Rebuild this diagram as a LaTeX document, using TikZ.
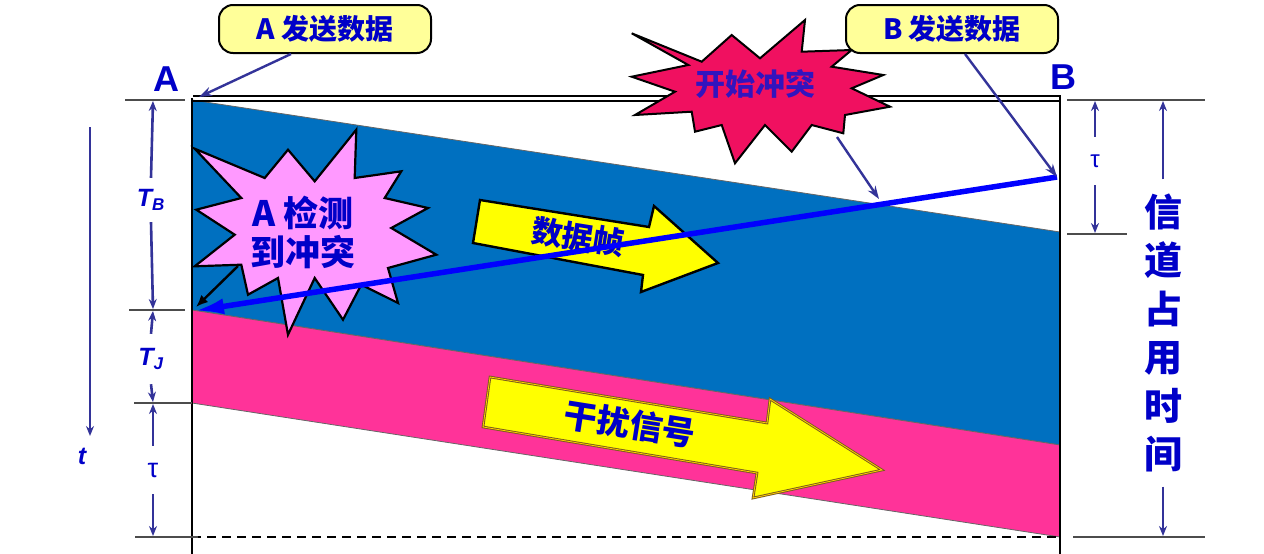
\documentclass[tikz,border=0pt]{standalone}
\usepackage{fontspec}
\setmainfont{Liberation Sans}
\newfontfamily\cjk{Noto Sans CJK SC}
\usetikzlibrary{arrows.meta}
\definecolor{bandblue}{RGB}{0,112,192}
\definecolor{bandpink}{RGB}{255,51,153}
\definecolor{burstpink}{RGB}{255,153,255}
\definecolor{burstred}{RGB}{240,16,96}
\definecolor{calloutyel}{RGB}{255,255,153}
\definecolor{dimblue}{RGB}{51,51,153}
\definecolor{txtblue}{RGB}{0,0,200}
\definecolor{txtviolet}{RGB}{50,20,190}
\definecolor{linblue}{RGB}{0,0,255}
\definecolor{arrowyel}{RGB}{255,255,0}
\definecolor{arrowrim}{RGB}{120,90,30}
\begin{document}
\begin{tikzpicture}[x=1pt,y=-1pt,
  dimarrow/.style={draw=dimblue, line width=2.6pt, -{Stealth[length=10pt,width=8pt]}},
  ptrarrow/.style={draw=dimblue, line width=2.4pt, -{Stealth[length=13pt,width=9pt]}},
  tickline/.style={draw=black!70, line width=1.5pt},
  callout/.style={draw=black, line width=2pt, fill=calloutyel, rounded corners=14pt,
    minimum width=212pt, minimum height=48pt, inner sep=0pt, text=txtblue,
    font=\cjk\bfseries\fontsize{28}{30}\selectfont},
  dimlabel/.style={text=txtblue, inner sep=0pt, font=\bfseries\itshape\fontsize{25}{28}\selectfont},
  bandedge/.style={draw=black!60, line width=0.8pt},
  bigletter/.style={text=txtblue, inner sep=0pt, font=\bfseries\fontsize{36}{38}\selectfont},
  burstA/.style={fill=burstpink, draw=black, line width=2.2pt, line join=miter},
  burstB/.style={fill=burstred, draw=black, line width=2pt, line join=miter},
  yelarrow/.style={fill=arrowyel, line join=miter}
]
\useasboundingbox (0,0) rectangle (1264,554);
% bands
\path[bandedge, fill=bandblue] (192,100) -- (1060,232) -- (1060,445) -- (192,310) -- cycle;
\path[bandedge, fill=bandpink] (192,310) -- (1060,445) -- (1060,537) -- (192,403) -- cycle;
% frame
\draw[black, line width=2pt] (193,96) -- (1060,96);
\draw[black, line width=2pt] (193,100.5) -- (1060,100.5);
\draw[black, line width=2.6pt] (192,98) -- (192,554);
\draw[black, line width=2.6pt] (1060,95) -- (1060,554);
\draw[black, line width=2.8pt, dash pattern=on 9pt off 6pt] (192,537) -- (1060,537);
% yellow arrows
\path[yelarrow, draw=black, line width=2.4pt] (480,200) -- (649,227) -- (654,206) -- (718,263) -- (641,292) -- (643,275) -- (473,243) -- cycle;
\node[text=txtblue, rotate=-9, font=\cjk\bfseries\fontsize{31}{33}\selectfont] (frame) at (578,237) {数据帧};
\path[yelarrow, draw=arrowrim, line width=2.6pt] (490,377) -- (767,423) -- (770,399) -- (882,470) -- (753,498) -- (757,473) -- (483,427) -- cycle;
\path[draw=arrowyel!60!orange, line width=0.8pt] (490,377) -- (767,423) -- (770,399) -- (882,470) -- (753,498) -- (757,473) -- (483,427) -- cycle;
\node[text=txtblue, rotate=-9, font=\cjk\bfseries\fontsize{33}{35}\selectfont] (jam) at (630,424) {干扰信号};
% burst A detects collision
\path[burstA] (194.7,148.7) -- (264.7,178) -- (288,149.7) -- (314.7,181.3) -- (356.3,129.7) -- (354.7,178)
  -- (401.3,171.3) -- (384.7,198) -- (428,208) -- (391.3,228) -- (436.3,254.7) -- (388,268)
  -- (398,303) -- (361.3,284.7) -- (343,319.7) -- (314.7,278) -- (288,334.7) -- (278,278)
  -- (248,294.7) -- (241.3,264.7) -- (194.7,266.3) -- (234.7,234.7) -- (196.3,209.7) -- (241.3,198) -- cycle;
\node[text=txtblue, align=center, inner sep=0pt, font=\cjk\bfseries\fontsize{35}{39}\selectfont] (detect) at (303,232) {A 检测\\到冲突};
% black arrow
\coordinate (bkstart) at (238,266);
\coordinate (bkend) at (196,307);
\draw[black, line width=2.4pt, -{Latex[length=12pt,width=10pt]}] (bkstart) -- (bkend);
% blue signal from B
\coordinate (Bsend) at (1057,177);
\coordinate (Arecv) at (194,311);
\draw[linblue, line width=5.5pt, -{Latex[length=30pt,width=16pt]}] (Bsend) -- (Arecv);
% burst collision starts
\path[burstB] (631.7,33.3) -- (701.7,61.7) -- (731.7,35) -- (760,58.3) -- (805,20) -- (801.7,51.7)
  -- (851.7,50) -- (831.7,66.7) -- (883.3,75) -- (851.7,88.3) -- (890,106.7) -- (845,115)
  -- (843.3,133.3) -- (811.7,125) -- (791.7,151.7) -- (765,125) -- (735,163.3) -- (721.7,125)
  -- (695,131.7) -- (691.7,111.7) -- (635,115) -- (675,91.7) -- (631.7,76.7) -- (688.3,65) -- cycle;
\node[text=txtviolet, inner sep=0pt, font=\cjk\bfseries\fontsize{30}{32}\selectfont] (collide) at (755,84) {开始冲突};
\coordinate (collfoot) at (837,137);
\coordinate (collpt) at (879,199);
\draw[ptrarrow] (collfoot) -- (collpt);
% callouts
\node[callout] (cA) at (325,29) {A 发送数据};
\node[callout] (cB) at (952,29) {B 发送数据};
\coordinate (cAfoot) at (291,54);
\coordinate (Astart) at (199,97);
\coordinate (cBfoot) at (965,54);
\draw[ptrarrow] (cAfoot) -- (Astart);
\draw[ptrarrow] (cBfoot) -- (Bsend);
% station labels
\node[bigletter] (stA) at (166,79) {A};
\node[bigletter] (stB) at (1063,77) {B};
% left dimensions
\draw[tickline] (125,100) -- (185,100);
\draw[tickline] (129,310) -- (185,310);
\draw[tickline] (134,403) -- (192,403);
\draw[tickline] (135,537) -- (198,537);
\coordinate (L0) at (153,101);
\coordinate (L1) at (153,309);
\coordinate (L1b) at (153,311);
\coordinate (L2) at (153,402);
\coordinate (L2b) at (153,404);
\coordinate (L3) at (153,536);
\node[dimlabel, minimum height=44pt] (TB) at (151,200) {T\textsubscript{\fontsize{17}{17}\selectfont B}};
\node[dimlabel, minimum height=50pt] (TJ) at (151,359) {T\textsubscript{\fontsize{17}{17}\selectfont J}};
\node[text=txtblue, inner sep=0pt, minimum height=48pt, font=\fontsize{27}{29}\selectfont] (tauL) at (153,470) {τ};
\draw[dimarrow] (TB.north) -- (L0);
\draw[dimarrow] (TB.south) -- (L1);
\draw[dimarrow] (TJ.north) -- (L1b);
\draw[dimarrow] (TJ.south) -- (L2);
\draw[dimarrow] (tauL.north) -- (L2b);
\draw[dimarrow] (tauL.south) -- (L3);
% time axis
\coordinate (t0) at (90,127);
\coordinate (t1) at (90,436);
\draw[dimarrow] (t0) -- (t1);
\node[dimlabel] (tlab) at (82,456) {t};
% right dimensions
\draw[tickline] (1067,100) -- (1205,100);
\draw[tickline] (1067,234) -- (1127,234);
\draw[tickline] (1073,537) -- (1205,537);
\coordinate (R0) at (1095,101);
\coordinate (R1) at (1095,233);
\node[text=txtblue, inner sep=0pt, minimum height=48pt, font=\fontsize{24}{26}\selectfont] (tauR) at (1095,161) {τ};
\draw[dimarrow] (tauR.north) -- (R0);
\draw[dimarrow] (tauR.south) -- (R1);
\coordinate (C0) at (1163,101);
\coordinate (C1) at (1163,536);
\node[text=txtblue, align=center, inner sep=0pt, minimum height=307pt, font=\cjk\bfseries\fontsize{38}{48.5}\selectfont] (occupy) at (1163,333) {信\\道\\占\\用\\时\\间};
\draw[dimarrow] (occupy.north) -- (C0);
\draw[dimarrow] (occupy.south) -- (C1);
\end{tikzpicture}
\end{document}
